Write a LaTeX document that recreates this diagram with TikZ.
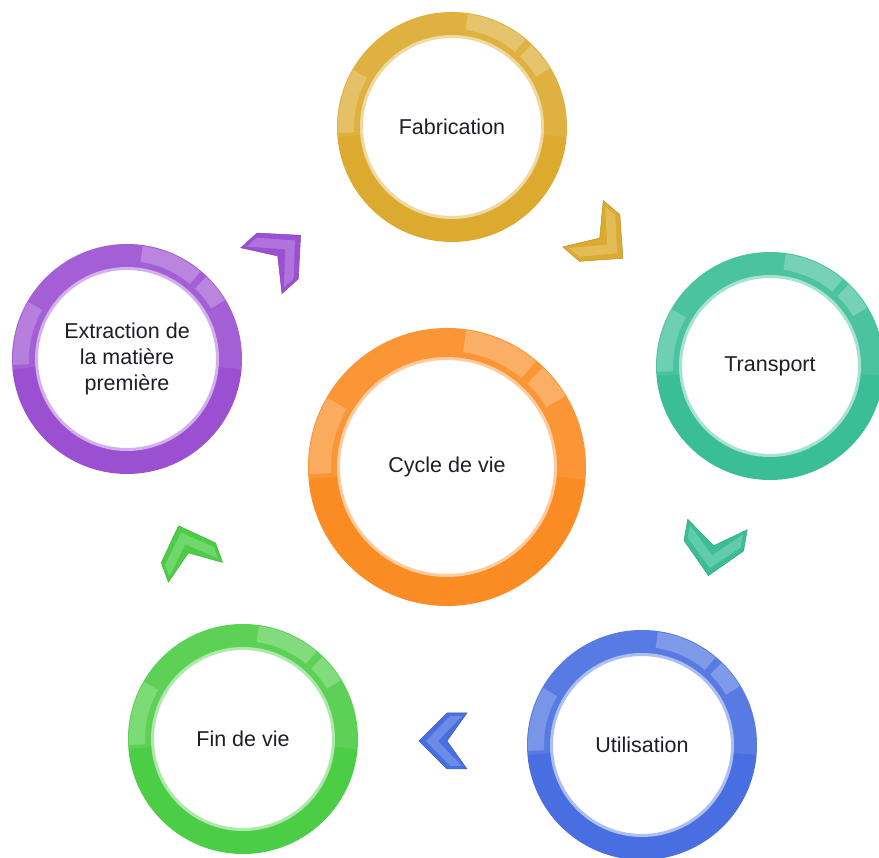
\documentclass[tikz,border=0pt]{standalone}
\usepackage{fontspec}
\setmainfont{Liberation Sans}
\definecolor{cgold}{HTML}{DCAA2E}
\definecolor{cteal}{HTML}{3ABE96}
\definecolor{cblue}{HTML}{486EE1}
\definecolor{cgreen}{HTML}{4CCD46}
\definecolor{cpurple}{HTML}{9B50D2}
\definecolor{corange}{HTML}{FA8C23}
\definecolor{txt}{HTML}{1E1E2A}
\tikzset{
  ringnode/.style={circle, inner sep=0pt, align=center, text=txt,
    font=\fontsize{21.5}{26}\selectfont},
}
\newcommand\DrawRing[7]{%
  \pgfmathsetmacro\RingW{#4-#5}%
  \pgfmathsetmacro\RingM{(#4+#5)/2}%
  \pgfmathsetmacro\RingA{#4-1}%
  \pgfmathsetmacro\RingB{#5+8}%
  \pgfmathsetmacro\RingC{#5+0.5}%
  \node[ringnode, draw=#6, line width=\RingW pt, minimum size=2*\RingM pt] (#1) at (#2,#3) {#7};
  \begin{scope}[shift={(#1.center)}]
    \fill[white, opacity=0.09] (-5:#4) arc (-5:185:#4) -- (185:#5) arc (185:-5:#5) -- cycle;
    \fill[white, opacity=0.24] (50:\RingA) arc (50:82:\RingA) -- (82:\RingB) arc (82:50:\RingB) -- cycle;
    \fill[white, opacity=0.24] (31:\RingA) arc (31:46:\RingA) -- (46:\RingB) arc (46:31:\RingB) -- cycle;
    \fill[white, opacity=0.2] (150:\RingA) arc (150:183:\RingA) -- (183:\RingB) arc (183:150:\RingB) -- cycle;
    \draw[#6!45!white, line width=3pt] (0,0) circle (\RingC);
  \end{scope}
}
\newcommand\DrawChev[6]{%
  \begin{scope}[shift={(#2,#3)}, rotate=#4, scale=#5]
    \path[fill=#6, draw=#6!85!black, line width=0.5pt] (24,0) -- (-4,28) -- (-24,28) -- (-4,0) -- (-24,-28) -- (-4,-28) -- cycle;
    \fill[white, opacity=0.2] (17,0) -- (-7,25) -- (-19,25) -- (5,0) -- (-19,-25) -- (-7,-25) -- cycle;
  \end{scope}
}
\begin{document}
\begin{tikzpicture}[x=1pt,y=1pt]
\useasboundingbox (0,0) rectangle (879,858);
\fill[white] (0,0) rectangle (879,858);

\DrawRing{fab}{452}{731}{115}{90}{cgold}{Fabrication}
\DrawRing{trans}{770}{492}{114}{89}{cteal}{Transport}
\DrawRing{util}{642}{113}{115}{90}{cblue}{Utilisation}
\DrawRing{fin}{243}{119}{115}{90}{cgreen}{Fin de vie}
\DrawRing{extr}{127}{499}{115}{90}{cpurple}{Extraction de\\la matière\\première}
\DrawRing{cycle}{447}{391}{139}{108}{corange}{Cycle de vie}

\DrawChev{c1}{281}{605}{42}{1.1}{cpurple}
\DrawChev{c2}{603}{617}{-41}{1.1}{cgold}
\DrawChev{c3}{713}{308}{-100}{1.08}{cteal}
\DrawChev{c4}{443}{117}{180}{1.0}{cblue}
\DrawChev{c5}{187}{309}{110}{1.03}{cgreen}
\end{tikzpicture}
\end{document}
